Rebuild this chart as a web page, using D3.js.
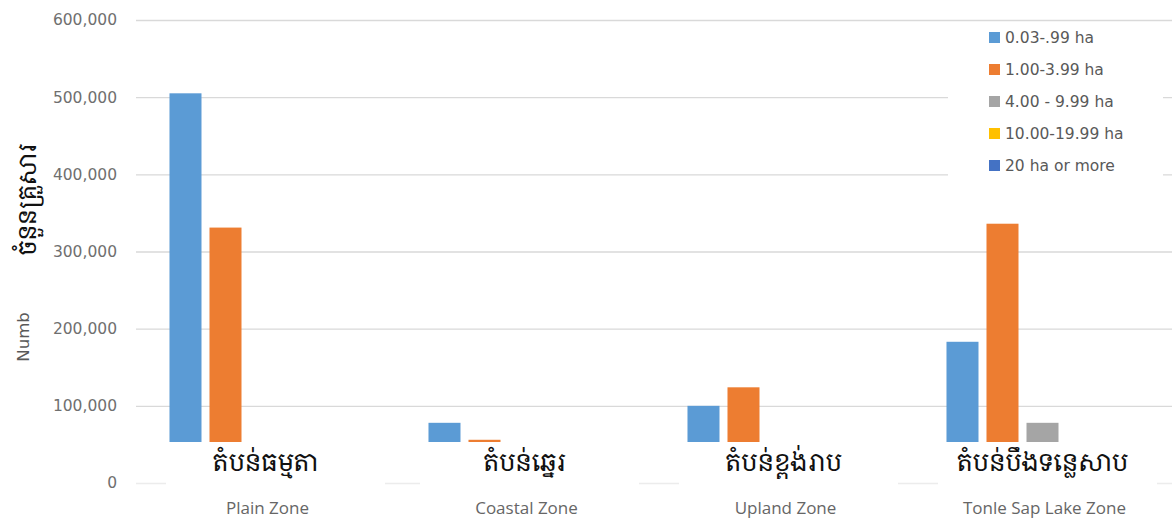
<!DOCTYPE html>
<html><head><meta charset="utf-8">
<script src="https://cdn.jsdelivr.net/npm/d3@7"></script>
<style>
body{margin:0;background:#fff;}
svg{display:block;}
</style></head>
<body><svg id="c" width="1176" height="526"></svg>
<script>
const categories = ["Plain Zone","Coastal Zone","Upland Zone","Tonle Sap Lake Zone"];
const categoriesKm = ["តំបន់ធម្មតា","តំបន់ឆ្នេរ","តំបន់ខ្ពង់រាប","តំបន់បឹងទន្លេសាប"];
const seriesNames = ["0.03-.99 ha","1.00-3.99 ha","4.00 - 9.99 ha","10.00-19.99 ha","20 ha or more"];
const s1 = [505000, 78000, 100000, 183000];
const s2 = [331000, 56000, 124000, 336000];
const s3 = [40000, 10000, 30000, 78000];
const s4 = [4000, 1000, 5000, 12000];
const s5 = [1000, 300, 2000, 4000];
const yTicks = [0,100000,200000,300000,400000,500000,600000];
const colors = ["#5B9BD5","#ED7D31","#A5A5A5","#FFC000","#4472C4"];
const seriesVals = [s1,s2,s3,s4,s5];

(function(){
const svg = d3.select("#c");
const L = 136, R = 1172, T = 20, B = 483;
const y = d3.scaleLinear().domain([0,600000]).range([B, T]);
const x0 = d3.scaleBand().domain(categories).range([L,R]).padding(0);
const bw = x0.bandwidth();
const x1 = d3.scaleBand().domain(seriesNames).range([bw*0.1293, bw*0.8707]).paddingInner(0.2).paddingOuter(0);

const yAxis = d3.axisLeft(y).tickValues(yTicks).tickSize(-(R-L)).tickFormat(d3.format(","));
const ga = svg.append("g").attr("transform",`translate(${L},0)`).call(yAxis);
ga.select(".domain").remove();
ga.selectAll(".tick line").attr("stroke","#d9d9d9").attr("stroke-width",1.3);
ga.selectAll(".tick text").attr("x",-19).attr("fill","#6f6f6f")
  .style("font-family","'DejaVu Sans',sans-serif").style("font-size","15.5px");
ga.selectAll(".tick").filter(d=>d===0).select("line").attr("stroke","#ececec");

const groups = svg.append("g").selectAll("g").data(categories).join("g")
  .attr("transform",d=>`translate(${x0(d)},0)`);
groups.selectAll("rect").data((d,i)=>seriesNames.map((s,j)=>({s,j,v:seriesVals[j][i]})))
  .join("rect")
  .attr("x",d=>x1(d.s)).attr("width",x1.bandwidth())
  .attr("y",d=>y(d.v)).attr("height",d=>B-y(d.v))
  .attr("fill",d=>colors[d.j]);

const cover = svg.append("g");
categories.forEach((c,i)=>{
  cover.append("rect").attr("x",x0(c)+ (i===0?30:25)).attr("width",bw-40)
    .attr("y",442).attr("height",45).attr("fill","#fff");
});
cover.append("rect").attr("x",L).attr("width",R-L).attr("y",442).attr("height",38).attr("fill","#fff");

svg.append("g").selectAll("text").data(categoriesKm).join("text")
  .attr("x",(d,i)=>x0(categories[i])+bw/2).attr("y",471)
  .attr("text-anchor","middle")
  .style("font-family","'Khmer OS','Noto Serif Khmer','Noto Sans Khmer',serif")
  .style("font-size","25px").attr("fill","#111").text(d=>d);

svg.append("g").selectAll("text").data(categories).join("text")
  .attr("x",d=>x0(d)+bw/2+2).attr("y",514)
  .attr("text-anchor","middle")
  .style("font-family","'Open Sans',sans-serif").style("font-size","17px")
  .attr("fill","#666").text(d=>d);

svg.append("text").attr("transform","translate(29,337) rotate(-90)")
  .attr("text-anchor","middle").style("font-family","'DejaVu Sans',sans-serif")
  .style("font-size","16.5px").attr("fill","#595959").text("Numb");
svg.append("text").attr("transform","translate(36,200) rotate(-90)")
  .attr("text-anchor","middle").style("font-family","'Khmer OS','Noto Serif Khmer','Noto Sans Khmer',serif")
  .style("font-size","24px").attr("fill","#111").text("ចំនួនគ្រួសារ");

const lg = svg.append("g");
lg.append("rect").attr("x",948).attr("y",26).attr("width",215).attr("height",158).attr("fill","#fff");
const li = lg.selectAll("g").data(seriesNames).join("g")
  .attr("transform",(d,i)=>`translate(989,${37+i*32})`);
li.append("rect").attr("x",0).attr("y",-5).attr("width",11).attr("height",11).attr("fill",(d,i)=>colors[i]);
li.append("text").attr("x",16).attr("y",6).style("font-family","'DejaVu Sans',sans-serif")
  .style("font-size","15.5px").attr("fill","#595959").text(d=>d);
})();
</script></body></html>
